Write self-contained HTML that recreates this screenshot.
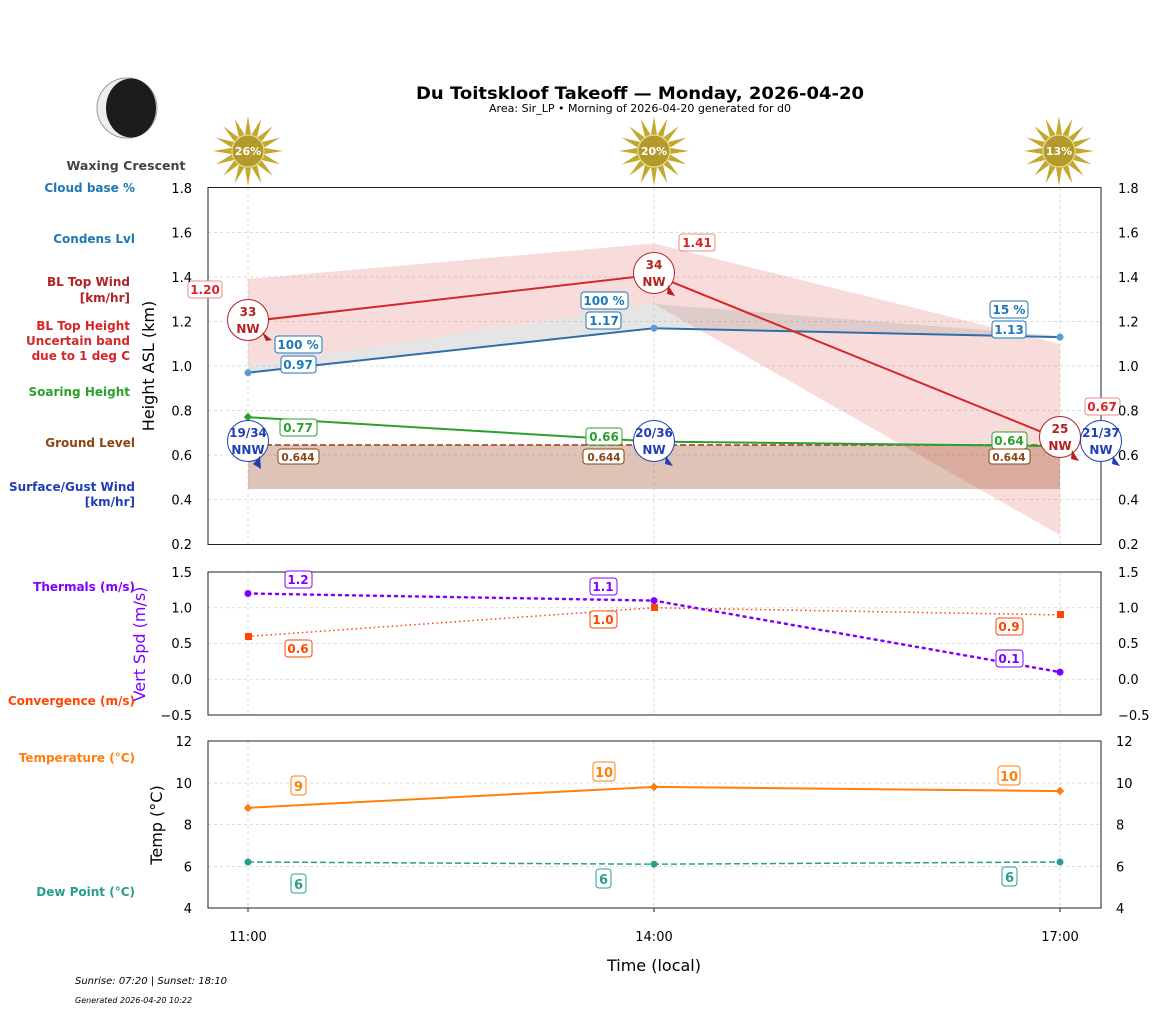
<!DOCTYPE html>
<html><head><meta charset="utf-8"><style>
html,body{margin:0;padding:0;background:#fff;}
svg{display:block;font-family:"DejaVu Sans","Liberation Sans",sans-serif;}
.t{font-size:13px;fill:#000;}
.lb{font-size:12px;font-weight:bold;}
.sl{font-size:12px;font-weight:bold;text-anchor:end;}
.g{stroke:#d0d0d0;stroke-width:0.8;stroke-dasharray:3,3;}
</style></head><body>
<svg width="1157" height="1011" viewBox="0 0 1157 1011" xmlns="http://www.w3.org/2000/svg">
<defs>
<symbol id="sun" overflow="visible">
<polygon fill="#c4a82c" points="35,0 15.69,3.12 32.34,13.39 13.30,8.89 24.75,24.75 8.89,13.30 13.39,32.34 3.12,15.69 0,35 -3.12,15.69 -13.39,32.34 -8.89,13.30 -24.75,24.75 -13.30,8.89 -32.34,13.39 -15.69,3.12 -35,0 -15.69,-3.12 -32.34,-13.39 -13.30,-8.89 -24.75,-24.75 -8.89,-13.30 -13.39,-32.34 -3.12,-15.69 0,-35 3.12,-15.69 13.39,-32.34 8.89,-13.30 24.75,-24.75 13.30,-8.89 32.34,-13.39 15.69,-3.12"/>
<circle r="16" fill="#b39a2a" stroke="#e8dc9a" stroke-width="1.2"/>
</symbol>
</defs>

<text x="640" y="99" text-anchor="middle" font-size="17" font-weight="bold" textLength="448" lengthAdjust="spacingAndGlyphs">Du Toitskloof Takeoff — Monday, 2026-04-20</text>
<text x="640" y="112" text-anchor="middle" font-size="10.5" textLength="302" lengthAdjust="spacingAndGlyphs">Area: Sir_LP • Morning of 2026-04-20 generated for d0</text>

<circle cx="127" cy="108" r="30" fill="#eee" stroke="#999" stroke-width="1"/>
<ellipse cx="131" cy="108" rx="25" ry="29.5" fill="#1c1c1c"/>
<text x="126" y="170" text-anchor="middle" font-size="12" font-weight="bold" fill="#444" textLength="119" lengthAdjust="spacingAndGlyphs">Waxing Crescent</text>

<use href="#sun" x="248" y="151"/>
<use href="#sun" x="654" y="151"/>
<use href="#sun" x="1059" y="151"/>
<g font-size="11" font-weight="bold" fill="#fff" text-anchor="middle">
<text x="248" y="155">26%</text><text x="654" y="155">20%</text><text x="1059" y="155">13%</text></g>

<g class="sl">
<text x="135" y="192" fill="#1f77b4">Cloud base %</text>
<text x="135" y="243" fill="#1f77b4">Condens Lvl</text>
<text x="130" y="286" fill="#b22222">BL Top Wind</text>
<text x="130" y="302" fill="#b22222">[km/hr]</text>
<text x="130" y="330" fill="#d62728">BL Top Height</text>
<text x="130" y="345" fill="#d62728">Uncertain band</text>
<text x="130" y="360" fill="#d62728">due to 1 deg C</text>
<text x="130" y="396" fill="#2ca02c">Soaring Height</text>
<text x="135" y="447" fill="#8b4513">Ground Level</text>
<text x="135" y="491" fill="#1f3fb4">Surface/Gust Wind</text>
<text x="135" y="506" fill="#1f3fb4">[km/hr]</text>
<text x="135" y="591" fill="#8000ff">Thermals (m/s)</text>
<text x="135" y="705" fill="#ff4500">Convergence (m/s)</text>
<text x="135" y="762" fill="#ff7f0e">Temperature (°C)</text>
<text x="135" y="896" fill="#2a9d8f">Dew Point (°C)</text>
</g>

<g class="g">
<line x1="208" x2="1101" y1="232.5" y2="232.5"/><line x1="208" x2="1101" y1="277" y2="277"/>
<line x1="208" x2="1101" y1="321.5" y2="321.5"/><line x1="208" x2="1101" y1="366" y2="366"/>
<line x1="208" x2="1101" y1="410.5" y2="410.5"/><line x1="208" x2="1101" y1="455" y2="455"/>
<line x1="208" x2="1101" y1="499.5" y2="499.5"/>
<line x1="248" x2="248" y1="188" y2="544"/><line x1="654" x2="654" y1="188" y2="544"/><line x1="1060" x2="1060" y1="188" y2="544"/>
</g>
<polygon points="248,279 654,243.5 1060,344 1060,535 654,304 248,366" fill="#e57373" fill-opacity="0.25"/>
<polygon points="248,445 1060,445 1060,489 248,489" fill="#a0522d" fill-opacity="0.35"/>
<polygon points="248,366 654,304 1060,336 1060,337 654,327 248,373" fill="#999" fill-opacity="0.25"/>
<line x1="248" y1="445" x2="1060" y2="445" stroke="#a0522d" stroke-width="1.8" stroke-dasharray="6,3"/>
<polyline points="248,372.7 654,328.2 1060,337.1" fill="none" stroke="#2f6ea8" stroke-width="2"/>
<g fill="#5b9bd5"><circle cx="248" cy="372.7" r="3.5"/><circle cx="654" cy="328.2" r="3.5"/><circle cx="1060" cy="337.1" r="3.5"/></g>
<polyline points="248,417.2 654,441.6 1060,446.1" fill="none" stroke="#2ca02c" stroke-width="2"/>
<rect x="245" y="414" width="6" height="6" fill="#2ca02c" transform="rotate(45 248 417)"/>
<polyline points="248,321.5 654,274.8 1060,439.4" fill="none" stroke="#d62728" stroke-width="2"/>
<rect x="208" y="187.5" width="893" height="357" fill="none" stroke="#222" stroke-width="1"/>

<g stroke-width="1" fill="#fff">
<circle cx="248" cy="320" r="20.5" stroke="#b22222"/>
<circle cx="654" cy="273" r="20.5" stroke="#b22222"/>
<circle cx="1060" cy="437" r="20.5" stroke="#b22222"/>
<circle cx="248" cy="441" r="20.5" stroke="#1f3fb4"/>
<circle cx="654" cy="441" r="20.5" stroke="#1f3fb4"/>
<circle cx="1101" cy="441" r="20.5" stroke="#1f3fb4"/>
</g>
<g fill="#b22222"><polygon points="262,332 272,340 266,341"/><polygon points="668,285 675,296 667,294"/><polygon points="1072,450 1079,461 1071,459"/></g>
<g fill="#1f3fb4"><polygon points="260,456 261,469 253,464"/><polygon points="666,456 673,466 665,464"/><polygon points="1113,456 1120,466 1112,464"/></g>
<g class="lb" text-anchor="middle" font-size="11.5">
<text x="248" y="316" fill="#b22222">33</text><text x="248" y="333" fill="#b22222">NW</text>
<text x="654" y="269" fill="#b22222">34</text><text x="654" y="286" fill="#b22222">NW</text>
<text x="1060" y="433" fill="#b22222">25</text><text x="1060" y="450" fill="#b22222">NW</text>
<text x="248" y="437" fill="#1f3fb4">19/34</text><text x="248" y="454" fill="#1f3fb4">NNW</text>
<text x="654" y="437" fill="#1f3fb4">20/36</text><text x="654" y="454" fill="#1f3fb4">NW</text>
<text x="1101" y="437" fill="#1f3fb4">21/37</text><text x="1101" y="454" fill="#1f3fb4">NW</text>
</g>

<g stroke-width="1" fill="#fff">
<rect x="188" y="281" width="34" height="17" rx="3" stroke="#e88"/>
<rect x="679" y="234" width="36" height="17" rx="3" stroke="#e88"/>
<rect x="1085" y="398" width="35" height="17" rx="3" stroke="#e88"/>
<rect x="275" y="336" width="47" height="17" rx="3" stroke="#1f77b4"/>
<rect x="281" y="356" width="35" height="17" rx="3" stroke="#1f77b4"/>
<rect x="581" y="292" width="47" height="17" rx="3" stroke="#1f77b4"/>
<rect x="586" y="312" width="35" height="17" rx="3" stroke="#1f77b4"/>
<rect x="990" y="301" width="38" height="17" rx="3" stroke="#1f77b4"/>
<rect x="992" y="321" width="34" height="17" rx="3" stroke="#1f77b4"/>
<rect x="280" y="419" width="37" height="17" rx="3" stroke="#2ca02c"/>
<rect x="586" y="428" width="36" height="17" rx="3" stroke="#2ca02c"/>
<rect x="992" y="432" width="35" height="17" rx="3" stroke="#2ca02c"/>
<rect x="278" y="449" width="41" height="15" rx="3" stroke="#8b4513"/>
<rect x="583" y="449" width="41" height="15" rx="3" stroke="#8b4513"/>
<rect x="989" y="449" width="41" height="15" rx="3" stroke="#8b4513"/>
</g>
<g class="lb" text-anchor="middle">
<text x="205" y="294" fill="#d62728">1.20</text>
<text x="697" y="247" fill="#d62728">1.41</text>
<text x="1102" y="411" fill="#d62728">0.67</text>
<text x="298" y="349" fill="#1f77b4">100 %</text>
<text x="298" y="369" fill="#1f77b4">0.97</text>
<text x="604" y="305" fill="#1f77b4">100 %</text>
<text x="604" y="325" fill="#1f77b4">1.17</text>
<text x="1009" y="314" fill="#1f77b4">15 %</text>
<text x="1009" y="334" fill="#1f77b4">1.13</text>
<text x="298" y="432" fill="#2ca02c">0.77</text>
<text x="604" y="441" fill="#2ca02c">0.66</text>
<text x="1009" y="445" fill="#2ca02c">0.64</text>
<text x="298" y="461" fill="#8b4513" font-size="10.5">0.644</text>
<text x="604" y="461" fill="#8b4513" font-size="10.5">0.644</text>
<text x="1009" y="461" fill="#8b4513" font-size="10.5">0.644</text>
</g>

<g class="t" text-anchor="end">
<text x="192" y="193">1.8</text><text x="192" y="237.5">1.6</text><text x="192" y="282">1.4</text><text x="192" y="326.5">1.2</text><text x="192" y="371">1.0</text><text x="192" y="415.5">0.8</text><text x="192" y="460">0.6</text><text x="192" y="504.5">0.4</text><text x="192" y="549">0.2</text>
</g>
<g class="t">
<text x="1118" y="193">1.8</text><text x="1118" y="237.5">1.6</text><text x="1118" y="282">1.4</text><text x="1118" y="326.5">1.2</text><text x="1118" y="371">1.0</text><text x="1118" y="415.5">0.8</text><text x="1118" y="460">0.6</text><text x="1118" y="504.5">0.4</text><text x="1118" y="549">0.2</text>
</g>
<text transform="translate(154,366) rotate(-90)" text-anchor="middle" font-size="16">Height ASL (km)</text>

<g class="g">
<line x1="208" x2="1101" y1="607.75" y2="607.75"/><line x1="208" x2="1101" y1="643.5" y2="643.5"/><line x1="208" x2="1101" y1="679.25" y2="679.25"/>
<line x1="248" x2="248" y1="572" y2="715"/><line x1="654" x2="654" y1="572" y2="715"/><line x1="1060" x2="1060" y1="572" y2="715"/>
</g>
<polyline points="248,636.4 654,607.75 1060,614.9" fill="none" stroke="#ff4500" stroke-width="1.5" stroke-dasharray="1.5,3"/>
<polyline points="248,593.5 654,600.6 1060,672.1" fill="none" stroke="#8000ff" stroke-width="2.5" stroke-dasharray="2,5" stroke-linecap="round"/>
<g fill="#ff4500"><rect x="245" y="633" width="7" height="7"/><rect x="651" y="604" width="7" height="7"/><rect x="1057" y="611" width="7" height="7"/></g>
<g fill="#8000ff"><circle cx="248" cy="593.5" r="3.5"/><circle cx="654" cy="600.6" r="3.5"/><circle cx="1060" cy="672.1" r="3.5"/></g>
<rect x="208" y="572" width="893" height="143" fill="none" stroke="#222" stroke-width="1"/>
<g stroke-width="1" fill="#fff">
<rect x="285" y="571" width="27" height="17" rx="3" stroke="#8000ff"/>
<rect x="590" y="578" width="27" height="17" rx="3" stroke="#8000ff"/>
<rect x="996" y="650" width="27" height="17" rx="3" stroke="#8000ff"/>
<rect x="285" y="640" width="27" height="17" rx="3" stroke="#ff4500"/>
<rect x="590" y="611" width="27" height="17" rx="3" stroke="#ff4500"/>
<rect x="996" y="618" width="27" height="17" rx="3" stroke="#ff4500"/>
</g>
<g class="lb" text-anchor="middle">
<text x="298" y="584" fill="#8000ff">1.2</text><text x="603" y="591" fill="#8000ff">1.1</text><text x="1009" y="663" fill="#8000ff">0.1</text>
<text x="298" y="653" fill="#ff4500">0.6</text><text x="603" y="624" fill="#ff4500">1.0</text><text x="1009" y="631" fill="#ff4500">0.9</text>
</g>
<g class="t" text-anchor="end">
<text x="192" y="577">1.5</text><text x="192" y="612.5">1.0</text><text x="192" y="648">0.5</text><text x="192" y="684">0.0</text><text x="192" y="720">−0.5</text>
</g>
<g class="t">
<text x="1118" y="577">1.5</text><text x="1118" y="612.5">1.0</text><text x="1118" y="648">0.5</text><text x="1118" y="684">0.0</text><text x="1118" y="720">−0.5</text>
</g>
<text transform="translate(145,644) rotate(-90)" text-anchor="middle" font-size="16" fill="#8000ff">Vert Spd (m/s)</text>

<g class="g">
<line x1="208" x2="1101" y1="783" y2="783"/><line x1="208" x2="1101" y1="824.5" y2="824.5"/><line x1="208" x2="1101" y1="866.5" y2="866.5"/>
<line x1="248" x2="248" y1="741" y2="908"/><line x1="654" x2="654" y1="741" y2="908"/><line x1="1060" x2="1060" y1="741" y2="908"/>
</g>
<polyline points="248,807.8 654,786.9 1060,791.1" fill="none" stroke="#ff7f0e" stroke-width="2"/>
<polyline points="248,862 654,864.2 1060,862" fill="none" stroke="#2a9d8f" stroke-width="1.5" stroke-dasharray="6,3"/>
<g fill="#ff7f0e">
<rect x="245" y="805" width="6" height="6" transform="rotate(45 248 808)"/><rect x="651" y="784" width="6" height="6" transform="rotate(45 654 787)"/><rect x="1057" y="788" width="6" height="6" transform="rotate(45 1060 791)"/></g>
<g fill="#2a9d8f"><circle cx="248" cy="862" r="3.5"/><circle cx="654" cy="864.2" r="3.5"/><circle cx="1060" cy="862" r="3.5"/></g>
<rect x="208" y="741" width="893" height="167" fill="none" stroke="#222" stroke-width="1"/>
<g stroke-width="1" fill="#fff">
<rect x="291" y="776" width="15" height="19" rx="3" stroke="#ff7f0e"/>
<rect x="593" y="762" width="22" height="19" rx="3" stroke="#ff7f0e"/>
<rect x="998" y="766" width="22" height="19" rx="3" stroke="#ff7f0e"/>
<rect x="291" y="874" width="15" height="19" rx="3" stroke="#2a9d8f"/>
<rect x="596" y="869" width="15" height="19" rx="3" stroke="#2a9d8f"/>
<rect x="1002" y="867" width="15" height="19" rx="3" stroke="#2a9d8f"/>
</g>
<g font-size="13" font-weight="bold" text-anchor="middle">
<text x="298.5" y="791" fill="#ff7f0e">9</text><text x="604" y="777" fill="#ff7f0e">10</text><text x="1009" y="781" fill="#ff7f0e">10</text>
<text x="298.5" y="889" fill="#2a9d8f">6</text><text x="603.5" y="884" fill="#2a9d8f">6</text><text x="1009.5" y="882" fill="#2a9d8f">6</text>
</g>
<g class="t" text-anchor="end">
<text x="192" y="746">12</text><text x="192" y="788">10</text><text x="192" y="829.5">8</text><text x="192" y="871.5">6</text><text x="192" y="913">4</text>
</g>
<g class="t">
<text x="1116" y="746">12</text><text x="1116" y="788">10</text><text x="1116" y="829.5">8</text><text x="1116" y="871.5">6</text><text x="1116" y="913">4</text>
</g>
<text transform="translate(162,825) rotate(-90)" text-anchor="middle" font-size="16">Temp (°C)</text>

<g stroke="#222"><line x1="248" x2="248" y1="908" y2="912"/><line x1="654" x2="654" y1="908" y2="912"/><line x1="1060" x2="1060" y1="908" y2="912"/></g>
<g class="t" text-anchor="middle"><text x="248" y="941">11:00</text><text x="654" y="941">14:00</text><text x="1060" y="941">17:00</text></g>
<text x="654" y="971" text-anchor="middle" font-size="16">Time (local)</text>
<text x="75" y="984" font-size="10" font-style="italic">Sunrise: 07:20 | Sunset: 18:10</text>
<text x="75" y="1003" font-size="8" font-style="italic">Generated 2026-04-20 10:22</text>
</svg>
</body></html>
